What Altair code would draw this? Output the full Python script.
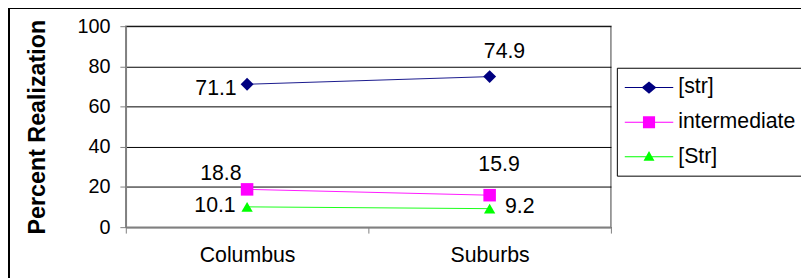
import altair as alt
import pandas as pd

categories = ["Columbus", "Suburbs"]
series_names = ["[str]", "intermediate", "[Str]"]
str_values = [71.1, 74.9]
intermediate_values = [18.8, 15.9]
Str_values = [10.1, 9.2]
y_ticks = [0, 20, 40, 60, 80, 100]

colors = ["#000080", "#FF00FF", "#00FF00"]
marker_shapes = ["diamond", "square", "triangle-up"]
marker_sizes = [170, 160, 130]
LINE = "M-1,-0.042L3.08,-0.042L3.08,0.042L-1,0.042Z "
legend_paths = [
    LINE + "M1.04,-0.52L1.66,0L1.04,0.52L0.42,0Z",
    LINE + "M0.53,-0.51L1.55,-0.51L1.55,0.51L0.53,0.51Z",
    LINE + "M1.04,-0.5L1.5,0.33L0.58,0.33Z",
]

rows = []
for name, vals in zip(series_names, [str_values, intermediate_values, Str_values]):
    for c, v in zip(categories, vals):
        rows.append({"category": c, "series": name, "value": v})
df = pd.DataFrame(rows)

FONT = "Liberation Sans"

x_enc = alt.X(
    "category:N",
    sort=categories,
    title=None,
    scale=alt.Scale(paddingInner=0, paddingOuter=0),
    axis=alt.Axis(
        tickBand="extent",
        labelAngle=0,
        labelFontSize=21.5,
        labelFont=FONT,
        labelColor="#000000",
        labelPadding=12,
        tickSize=6,
        tickColor="#808080",
        domainColor="#808080",
        domainWidth=1.5,
        grid=False,
    ),
)
y_enc = alt.Y(
    "value:Q",
    scale=alt.Scale(domain=[0, 100], nice=False),
    axis=alt.Axis(
        values=y_ticks,
        title="Percent Realization",
        titleFontSize=23.5,
        titleFont=FONT,
        titleFontWeight="bold",
        titleColor="#000000",
        titlePadding=28,
        labelFontSize=20,
        labelFont=FONT,
        labelColor="#000000",
        labelPadding=10,
        tickSize=6,
        tickColor="#808080",
        domainColor="#808080",
        domainWidth=1.5,
        grid=True,
        gridColor="#000000",
        gridWidth=1,
    ),
)

frame = alt.Chart(df).mark_rect(
    fill=None, stroke="#000000", strokeWidth=1.5
).encode(
    x=alt.value(-118), x2=alt.value(900), y=alt.value(-18), y2=alt.value(400)
)

line_layers = []
marker_layers = []
for name, shp, sz, col in zip(series_names, marker_shapes, marker_sizes, colors):
    line_layers.append(
        alt.Chart(df)
        .transform_filter(alt.datum.series == name)
        .mark_line(strokeWidth=0.9, color=col)
        .encode(x=x_enc, y=y_enc)
    )
    marker_layers.append(
        alt.Chart(df)
        .transform_filter(alt.datum.series == name)
        .mark_point(shape=shp, size=sz, filled=True, opacity=1, color=col, strokeWidth=0)
        .encode(x=x_enc, y=y_enc)
    )

legend_props = dict(
    title=None,
    orient="none",
    legendX=496,
    legendY=42,
    strokeColor="#000000",
    padding=8,
    labelFontSize=21.5,
    labelFont=FONT,
    labelColor="#000000",
    symbolSize=576,
    symbolStrokeWidth=0,
    labelOffset=30,
    rowPadding=12,
)

legend_layer = (
    alt.Chart(df)
    .transform_filter("false")
    .mark_point(filled=True, opacity=1, size=576, strokeWidth=0)
    .encode(
        x=x_enc,
        y=y_enc,
        color=alt.Color(
            "series:N",
            scale=alt.Scale(domain=series_names, range=colors),
            legend=alt.Legend(**legend_props),
        ),
        shape=alt.Shape(
            "series:N",
            scale=alt.Scale(domain=series_names, range=legend_paths),
            legend=alt.Legend(**legend_props),
        ),
    )
)

label_specs = [
    ("[str]", "Columbus", "right", -10.5, 5),
    ("[str]", "Suburbs", "center", 15, -25),
    ("intermediate", "Columbus", "center", -26.5, -15),
    ("intermediate", "Suburbs", "center", 9.5, -30),
    ("[Str]", "Columbus", "right", -11.5, -1),
    ("[Str]", "Suburbs", "left", 15.5, -1.5),
]
label_layers = []
for s, c, al, dx, dy in label_specs:
    label_layers.append(
        alt.Chart(df)
        .transform_filter((alt.datum.series == s) & (alt.datum.category == c))
        .mark_text(
            align=al, baseline="middle", dx=dx, dy=dy, fontSize=21.5, font=FONT, color="#000000"
        )
        .encode(x=x_enc, y=y_enc, text=alt.Text("value:Q", format=".1f"))
    )

chart = (
    alt.layer(frame, *line_layers, *marker_layers, legend_layer, *label_layers)
    .properties(
        width=490,
        height=203,
        padding={"left": 119, "top": 17, "right": 192, "bottom": 50},
        autosize=alt.AutoSizeParams(type="none"),
        background="#ffffff",
    )
    .configure_view(stroke="#808080", strokeWidth=1.5)
)

chart.save("out.html", embed_options={"renderer": "svg", "actions": False})
